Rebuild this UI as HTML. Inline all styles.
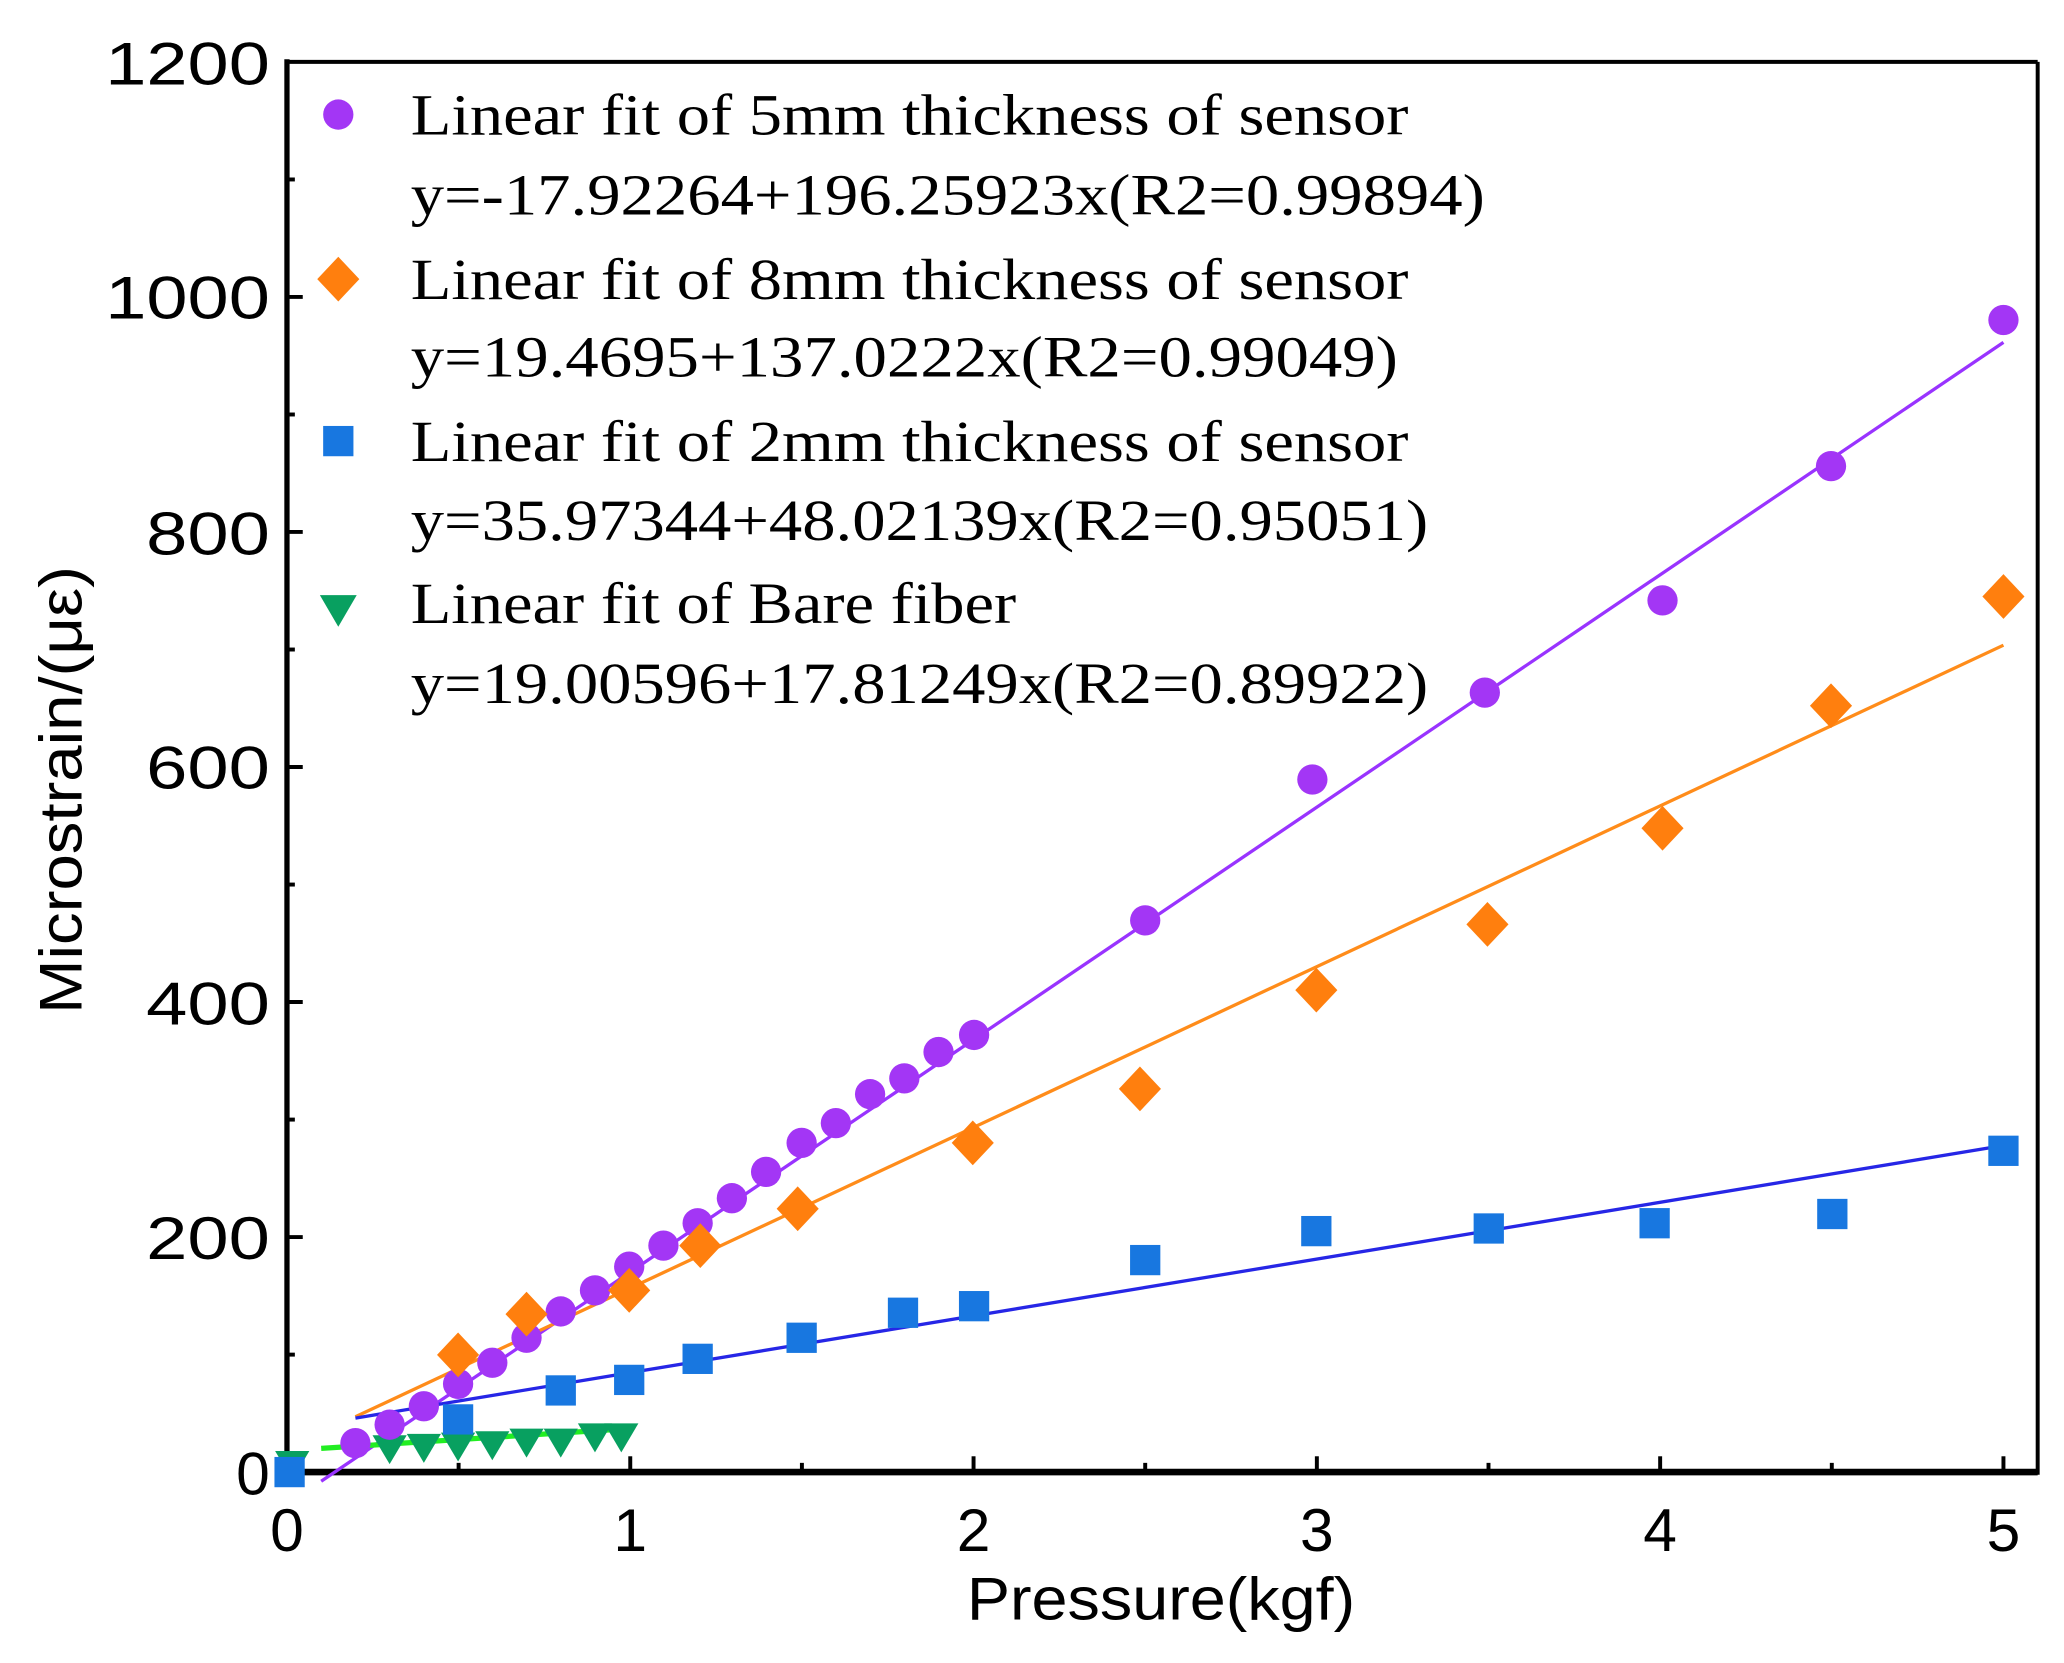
<!DOCTYPE html>
<html><head><meta charset="utf-8"><style>html,body{margin:0;padding:0;background:#fff}svg{display:block}</style></head>
<body>
<svg width="2064" height="1663" viewBox="0 0 1568 1263" preserveAspectRatio="none" xmlns="http://www.w3.org/2000/svg">
<defs>
<circle id="c" r="11.5" fill="#a336f5"/>
<path id="d" d="M0,-17 L16,0 L0,17 L-16,0Z" fill="#ff7f0e"/>
<rect id="s" x="-11.5" y="-11.5" width="23" height="23" fill="#1877e0"/>
<path id="t" d="M-13,-11 L13,-11 L0,11Z" fill="#08a060"/>
</defs>
<rect width="1568" height="1263" fill="#fff"/>
<g stroke="#000" fill="none">
<line x1="218" y1="1118" x2="1548" y2="1118" stroke-width="5"/>
<line x1="218" y1="45" x2="218" y2="1120" stroke-width="4"/>
<line x1="218" y1="47" x2="1548" y2="47" stroke-width="3"/>
<line x1="1548" y1="47" x2="1548" y2="1120" stroke-width="3"/>
<g stroke-width="3">
<line x1="218" y1="939.5" x2="230" y2="939.5"/><line x1="218" y1="761" x2="230" y2="761"/><line x1="218" y1="582.5" x2="230" y2="582.5"/><line x1="218" y1="404" x2="230" y2="404"/><line x1="218" y1="225.5" x2="230" y2="225.5"/>
<line x1="218" y1="1028.8" x2="224" y2="1028.8"/><line x1="218" y1="850.3" x2="224" y2="850.3"/><line x1="218" y1="671.8" x2="224" y2="671.8"/><line x1="218" y1="493.3" x2="224" y2="493.3"/><line x1="218" y1="314.8" x2="224" y2="314.8"/><line x1="218" y1="136.3" x2="224" y2="136.3"/>
<line x1="478.8" y1="1118" x2="478.8" y2="1106"/><line x1="739.6" y1="1118" x2="739.6" y2="1106"/><line x1="1000.4" y1="1118" x2="1000.4" y2="1106"/><line x1="1261.2" y1="1118" x2="1261.2" y2="1106"/><line x1="1522" y1="1118" x2="1522" y2="1106"/>
<line x1="348.4" y1="1118" x2="348.4" y2="1111"/><line x1="609.2" y1="1118" x2="609.2" y2="1111"/><line x1="870" y1="1118" x2="870" y2="1111"/><line x1="1130.8" y1="1118" x2="1130.8" y2="1111"/><line x1="1391.6" y1="1118" x2="1391.6" y2="1111"/>
</g>
</g>
<g font-family="Liberation Sans, sans-serif" font-size="46" fill="#000" text-anchor="end">
<text x="205" y="1135">0</text>
<text x="205" y="956" textLength="94" lengthAdjust="spacingAndGlyphs">200</text>
<text x="205" y="778" textLength="94" lengthAdjust="spacingAndGlyphs">400</text>
<text x="205" y="599" textLength="94" lengthAdjust="spacingAndGlyphs">600</text>
<text x="205" y="421" textLength="94" lengthAdjust="spacingAndGlyphs">800</text>
<text x="205" y="242" textLength="125" lengthAdjust="spacingAndGlyphs">1000</text>
<text x="205" y="64" textLength="125" lengthAdjust="spacingAndGlyphs">1200</text>
</g>
<g font-family="Liberation Sans, sans-serif" font-size="46" fill="#000" text-anchor="middle">
<text x="218" y="1178">0</text><text x="478.8" y="1178">1</text><text x="739.6" y="1178">2</text><text x="1000.4" y="1178">3</text><text x="1261.2" y="1178">4</text><text x="1522" y="1178">5</text>
<text x="882" y="1230" font-size="46" textLength="295" lengthAdjust="spacingAndGlyphs">Pressure(kgf)</text>
<text transform="translate(62,600) rotate(-90)" font-size="46" textLength="340" lengthAdjust="spacingAndGlyphs">Microstrain/(με)</text>
</g>
<line x1="244" y1="1125" x2="1522" y2="260" stroke="#9933ff" stroke-width="2.5"/>
<line x1="270" y1="1076" x2="1522" y2="490" stroke="#ff8c1a" stroke-width="2.5"/>
<line x1="270" y1="1077" x2="1522" y2="870" stroke="#2626e6" stroke-width="2.5"/>
<line x1="244" y1="1100" x2="478" y2="1085" stroke="#22ee22" stroke-width="4"/>
<g>
<use href="#t" x="296" y="1101"/><use href="#t" x="322" y="1100"/><use href="#t" x="348" y="1099"/><use href="#t" x="374" y="1098"/><use href="#t" x="400" y="1096"/><use href="#t" x="426" y="1096"/><use href="#t" x="452" y="1092"/><use href="#t" x="472" y="1092"/>
<use href="#t" x="222" y="1113"/>
</g>
<g>
<use href="#s" x="220" y="1118"/><use href="#s" x="348" y="1078"/><use href="#s" x="426" y="1056"/><use href="#s" x="478" y="1048"/><use href="#s" x="530" y="1032"/><use href="#s" x="609" y="1016"/><use href="#s" x="686" y="997"/><use href="#s" x="740" y="992"/><use href="#s" x="870" y="957"/><use href="#s" x="1000" y="935"/><use href="#s" x="1131" y="933"/><use href="#s" x="1257" y="929"/><use href="#s" x="1392" y="922"/><use href="#s" x="1522" y="874"/>
</g>
<g>
<use href="#c" x="270" y="1096"/><use href="#c" x="296" y="1082"/><use href="#c" x="322" y="1068"/><use href="#c" x="348" y="1051"/><use href="#c" x="374" y="1035"/><use href="#c" x="400" y="1016"/><use href="#c" x="426" y="996"/><use href="#c" x="452" y="980"/><use href="#c" x="478" y="962"/><use href="#c" x="504" y="946"/><use href="#c" x="530" y="929"/><use href="#c" x="556" y="910"/><use href="#c" x="582" y="890"/><use href="#c" x="609" y="868"/><use href="#c" x="635" y="853"/><use href="#c" x="661" y="831"/><use href="#c" x="687" y="819"/><use href="#c" x="713" y="799"/><use href="#c" x="740" y="786"/><use href="#c" x="870" y="699"/><use href="#c" x="997" y="592"/><use href="#c" x="1128" y="526"/><use href="#c" x="1263" y="456"/><use href="#c" x="1391" y="354"/><use href="#c" x="1522" y="243"/>
</g>
<g>
<use href="#d" x="348" y="1029"/><use href="#d" x="400" y="998"/><use href="#d" x="478" y="980"/><use href="#d" x="532" y="946"/><use href="#d" x="606" y="918"/><use href="#d" x="739" y="868"/><use href="#d" x="866" y="827"/><use href="#d" x="1000" y="752"/><use href="#d" x="1130" y="702"/><use href="#d" x="1263" y="629"/><use href="#d" x="1391" y="536"/><use href="#d" x="1522" y="453"/>
</g>
<use href="#c" x="257" y="87"/>
<use href="#d" x="257" y="212"/>
<use href="#s" x="257" y="335"/>
<path d="M243,452 L271,452 L257,476Z" fill="#08a060"/>
<g font-family="Liberation Serif, serif" font-size="44" fill="#000" lengthAdjust="spacingAndGlyphs">
<text x="312" y="102" textLength="758" lengthAdjust="spacingAndGlyphs">Linear fit of 5mm thickness of sensor</text>
<text x="312" y="163" textLength="816" lengthAdjust="spacingAndGlyphs">y=-17.92264+196.25923x(R2=0.99894)</text>
<text x="312" y="227" textLength="758" lengthAdjust="spacingAndGlyphs">Linear fit of 8mm thickness of sensor</text>
<text x="312" y="286" textLength="750" lengthAdjust="spacingAndGlyphs">y=19.4695+137.0222x(R2=0.99049)</text>
<text x="312" y="350" textLength="758" lengthAdjust="spacingAndGlyphs">Linear fit of 2mm thickness of sensor</text>
<text x="312" y="410" textLength="773" lengthAdjust="spacingAndGlyphs">y=35.97344+48.02139x(R2=0.95051)</text>
<text x="312" y="473" textLength="460" lengthAdjust="spacingAndGlyphs">Linear fit of Bare fiber</text>
<text x="312" y="534" textLength="773" lengthAdjust="spacingAndGlyphs">y=19.00596+17.81249x(R2=0.89922)</text>
</g>
</svg>
</body></html>
